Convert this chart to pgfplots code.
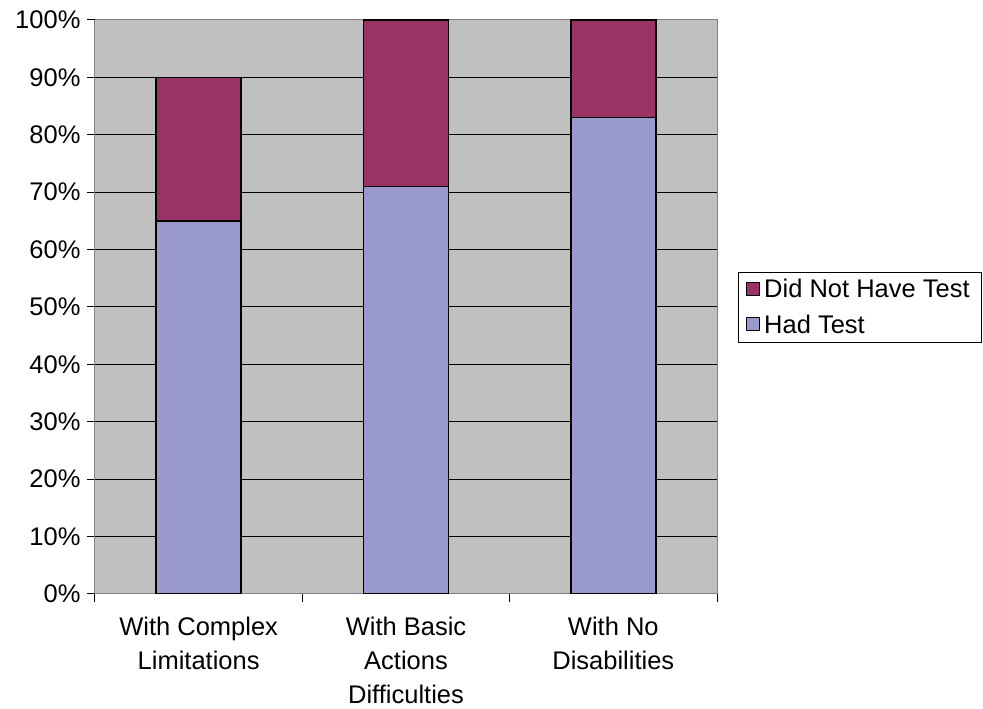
\documentclass[border=0pt]{standalone}
\usepackage{pgfplots}
\pgfplotsset{compat=1.18}
\usepackage{fontspec}
\setmainfont{Liberation Sans}
\definecolor{hadtest}{HTML}{9999CC}
\definecolor{nottest}{HTML}{993366}
\definecolor{plotbg}{HTML}{C0C0C0}
\newcommand{\chartfont}{\fontsize{25.5}{34}\selectfont}

\begin{document}
\begin{tikzpicture}
\useasboundingbox (-95pt,-115pt) rectangle (888pt,594pt);
\begin{axis}[
  scale only axis,
  width=622pt, height=574pt,
  ybar stacked, bar width=85pt,
  xmin=-0.5, xmax=2.5, ymin=0, ymax=100,
  axis background/.style={fill=plotbg},
  axis line style={draw=gray, line width=1pt},
  tick align=outside,
  major tick length=8pt,
  xtick pos=bottom, ytick pos=left,
  every tick/.style={black, line width=1pt},
  xtick={-0.5,0.5,1.5,2.5}, xticklabels={},
  extra x ticks={0,1,2},
  extra x tick labels={With Complex\\Limitations, With Basic\\Actions\\Difficulties, With No\\Disabilities},
  extra x tick style={major tick length=0pt, xticklabel style={align=center, font=\chartfont, yshift=-19pt}},
  ytick={0,10,...,90},
  yticklabels={0\%,10\%,20\%,30\%,40\%,50\%,60\%,70\%,80\%,90\%},
  extra y ticks={100}, extra y tick labels={100\%},
  extra y tick style={grid=none},
  yticklabel style={font=\chartfont, xshift=-3pt},
  ymajorgrids, major grid style={black, line width=1pt},
  legend style={at={(1,0.5)}, anchor=west, xshift=21pt, draw=black, fill=white,
    font=\chartfont, row sep=12pt, inner xsep=8pt, inner ysep=5pt,
    nodes={inner xsep=4pt}},
  legend cell align=left,
  reverse legend,
  legend image code/.code={\draw[#1, line width=1pt] (0pt,-6pt) rectangle (13pt,7pt);},
]
\addplot[fill=hadtest, draw=black, line width=1.5pt] coordinates {(0,65) (1,71) (2,83)};
\addlegendentry{Had Test}
\addplot[fill=nottest, draw=black, line width=1.5pt] coordinates {(0,25) (1,29) (2,17)};
\addlegendentry{Did Not Have Test}
\end{axis}
\end{tikzpicture}
\end{document}
